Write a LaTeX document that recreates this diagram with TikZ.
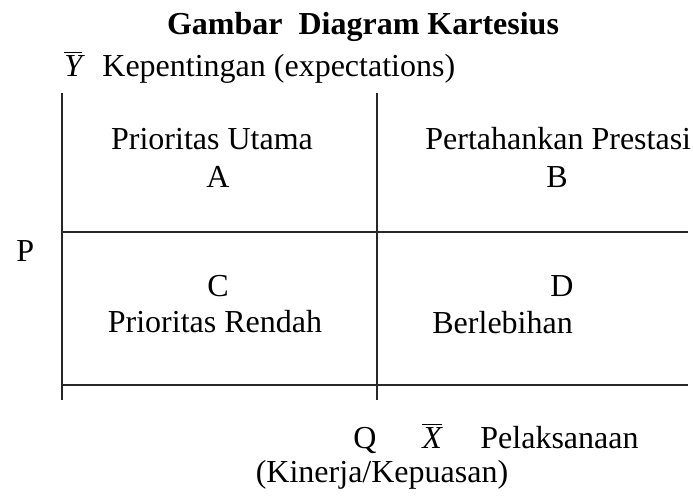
\documentclass[tikz,border=0pt]{standalone}
\usepackage{fontspec}
\setmainfont{Liberation Serif}
\usepackage{tikz}
\usetikzlibrary{positioning}
\definecolor{axisgray}{RGB}{40,40,40}
\newcommand{\barlbl}[1]{$\overline{\mbox{\itshape #1}}$}

\begin{document}
\begin{tikzpicture}[
    x=0.5pt, y=-0.5pt,
    lbl/.style={inner sep=0pt, font=\fontsize{16}{19}\selectfont},
    title/.style={lbl, font=\fontsize{16}{19}\selectfont\bfseries},
    axis/.style={line width=1pt, axisgray},
]
    \useasboundingbox (0,0) rectangle (693,495);

    % grid corners
    \coordinate (tl) at (62,93);
    \coordinate (tm) at (377,93);
    \coordinate (bl) at (62,400);
    \coordinate (bm) at (377,400);
    \coordinate (ml) at (62,232);
    \coordinate (mr) at (688,232);
    \coordinate (ll) at (62,385);
    \coordinate (lr) at (688,385);

    \draw[axis] (tl) -- (bl);
    \draw[axis] (tm) -- (bm);
    \draw[axis] (ml) -- (mr);
    \draw[axis] (ll) -- (lr);

    \node[title, anchor=base] (ttl) at (363,34) {Gambar\ \ Diagram Kartesius};
    \node[lbl, anchor=base west] (ybar) at (64,76) {\barlbl{Y}};
    \node[lbl, anchor=base west] (ylbl) at (102,76) {Kepentingan (expectations)};

    \node[lbl, anchor=base] (qa) at (212,149) {Prioritas Utama};
    \node[lbl, anchor=base] (a) at (218,187) {A};
    \node[lbl, anchor=base west] (qb) at (425,149) {Pertahankan Prestasi};
    \node[lbl, anchor=base] (b) at (557,187) {B};
    \node[lbl, anchor=base] (c) at (218,296) {C};
    \node[lbl, anchor=base] (qc) at (215,332) {Prioritas Rendah};
    \node[lbl, anchor=base] (d) at (562,296) {D};
    \node[lbl, anchor=base west] (qd) at (432,333) {Berlebihan};

    \node[lbl, anchor=base west] (p) at (16,261) {P};
    \node[lbl, anchor=base west] (q) at (353,448) {Q};
    \node[lbl, anchor=base west] (xbar) at (422,448) {\barlbl{X}};
    \node[lbl, anchor=base west] (xlbl) at (480,448) {Pelaksanaan};
    \node[lbl, anchor=base] (xsub) at (382,482) {(Kinerja/Kepuasan)};
\end{tikzpicture}
\end{document}
